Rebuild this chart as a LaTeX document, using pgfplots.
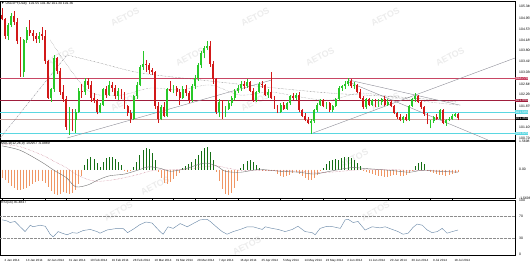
\documentclass[border=0pt]{standalone}
\usepackage{pgfplots}
\pgfplotsset{compat=1.18}
\usepackage{pgfplotstable}
\usepackage{fontspec}
\setmainfont{Liberation Sans}
\definecolor{upc}{RGB}{40,200,40}
\definecolor{dnc}{RGB}{210,25,25}
\definecolor{hred}{RGB}{160,30,60}
\definecolor{hpink}{RGB}{200,70,100}
\definecolor{hcyan}{RGB}{90,215,225}
\definecolor{htan}{RGB}{205,165,160}
\definecolor{macdg}{RGB}{20,110,20}
\definecolor{macdo}{RGB}{240,150,100}
\definecolor{rsic}{RGB}{110,140,170}
\definecolor{wm}{RGB}{236,236,236}
\definecolor{tl}{RGB}{140,140,150}

\pgfplotstableread{
i o h l c
0 105.05 105.30 104.85 104.90
1 104.90 104.95 104.20 104.30
2 104.30 104.75 104.15 104.70
3 104.70 105.10 104.60 105.00
4 105.00 105.20 104.70 104.80
5 104.80 104.95 104.00 104.10
6 104.10 104.25 102.85 103.00
7 103.00 104.20 102.85 104.15
8 104.15 104.60 104.05 104.50
9 104.50 104.85 104.30 104.40
10 104.40 104.50 104.10 104.30
11 104.30 104.40 104.05 104.20
12 104.20 104.45 104.05 104.30
13 104.35 104.60 104.15 104.30
14 104.30 104.50 103.30 103.40
15 103.40 103.45 102.05 102.10
16 102.10 102.45 101.95 102.40
17 102.40 103.60 102.30 103.50
18 103.50 103.55 102.95 103.05
19 103.05 103.15 102.20 102.30
20 102.30 102.55 101.95 102.05
21 102.05 102.15 100.95 101.05
22 101.05 101.75 100.76 101.60
23 101.60 101.70 100.90 101.30
24 101.30 101.70 100.85 101.60
25 101.60 102.45 101.55 102.35
26 102.35 102.60 102.10 102.30
27 102.30 102.80 102.20 102.70
28 102.70 102.80 102.40 102.55
29 102.55 102.70 101.95 102.10
30 102.10 102.25 101.90 102.00
31 102.00 102.05 101.50 101.60
32 101.60 101.90 101.55 101.85
33 101.85 102.45 101.80 102.40
34 102.40 102.50 102.10 102.20
35 102.20 102.70 102.15 102.55
36 102.55 102.65 102.30 102.45
37 102.45 102.55 102.05 102.15
38 102.15 102.45 102.00 102.35
39 102.35 102.40 102.05 102.20
40 102.20 102.30 101.70 101.80
41 101.80 101.85 101.45 101.55
42 101.55 101.65 101.20 101.35
43 101.35 102.20 101.30 102.15
44 102.15 102.65 102.05 102.55
45 102.55 103.25 102.50 103.20
46 103.20 103.76 103.10 103.30
47 103.30 103.45 103.00 103.25
48 103.25 103.35 102.95 103.10
49 103.10 103.15 102.90 103.00
50 103.00 103.05 101.70 101.80
51 101.80 101.95 101.20 101.35
52 101.35 101.85 101.30 101.75
53 101.75 101.95 101.40 101.45
54 101.45 102.45 101.40 102.40
55 102.40 102.70 102.30 102.35
56 102.35 102.55 102.25 102.45
57 102.45 102.50 102.15 102.30
58 102.30 102.40 101.85 102.10
59 102.10 102.50 102.05 102.40
60 102.40 102.55 102.15 102.25
61 102.25 102.35 101.90 102.00
62 102.00 102.60 101.95 102.50
63 102.50 102.90 102.40 102.80
64 102.80 103.35 102.70 103.25
65 103.25 103.75 103.15 103.70
66 103.70 103.95 103.50 103.85
67 103.85 104.13 103.80 103.95
68 103.95 104.10 103.20 103.30
69 103.30 103.40 102.60 102.75
70 102.75 102.80 101.50 101.60
71 101.60 102.05 101.40 101.95
72 101.95 102.00 101.35 101.45
73 101.45 101.80 101.40 101.70
74 101.70 102.00 101.65 101.90
75 101.90 102.15 101.80 102.10
76 102.10 102.40 102.00 102.35
77 102.35 102.55 102.25 102.45
78 102.45 102.70 102.35 102.60
79 102.60 102.70 102.40 102.50
80 102.50 102.75 102.45 102.65
81 102.65 102.70 102.30 102.35
82 102.35 102.45 101.95 102.00
83 102.00 102.35 101.95 102.30
84 102.30 102.65 102.25 102.60
85 102.60 102.70 102.45 102.55
86 102.55 102.60 102.15 102.20
87 102.20 102.40 102.10 102.30
88 102.30 103.00 102.05 102.10
89 102.10 102.15 101.70 101.75
90 101.75 101.85 101.55 101.60
91 101.60 101.90 101.55 101.85
92 101.85 101.95 101.65 101.70
93 101.70 101.95 101.65 101.90
94 101.90 102.20 101.85 102.15
95 102.15 102.25 102.00 102.10
96 102.10 102.25 102.00 102.20
97 102.20 102.30 101.60 101.65
98 101.65 101.70 101.40 101.45
99 101.45 101.55 101.25 101.30
100 101.30 101.40 101.15 101.20
101 101.20 101.35 100.82 101.25
102 101.25 101.70 101.20 101.65
103 101.65 101.90 101.60 101.85
104 101.85 102.05 101.80 102.00
105 102.00 102.05 101.75 101.80
106 101.80 101.95 101.70 101.90
107 101.90 101.95 101.60 101.65
108 101.65 101.85 101.60 101.80
109 101.80 102.10 101.75 102.05
110 102.05 102.50 102.00 102.45
111 102.45 102.55 102.35 102.50
112 102.50 102.70 102.40 102.60
113 102.60 102.80 102.50 102.70
114 102.70 102.75 102.45 102.50
115 102.50 102.65 102.40 102.55
116 102.55 102.60 102.25 102.30
117 102.30 102.40 102.05 102.10
118 102.10 102.15 101.70 101.75
119 101.75 102.10 101.70 102.05
120 102.05 102.10 101.80 101.85
121 101.85 102.05 101.80 102.00
122 102.00 102.05 101.75 101.80
123 101.80 102.05 101.75 101.95
124 101.95 102.10 101.85 102.05
125 102.05 102.15 101.80 101.85
126 101.85 102.05 101.80 101.95
127 101.95 102.00 101.75 101.80
128 101.80 101.85 101.50 101.55
129 101.55 101.60 101.35 101.40
130 101.40 101.50 101.25 101.30
131 101.30 101.45 101.20 101.40
132 101.40 101.50 101.25 101.30
133 101.30 101.85 101.25 101.80
134 101.80 102.10 101.75 102.05
135 102.05 102.28 101.95 102.15
136 102.15 102.20 101.90 101.95
137 101.95 102.00 101.70 101.75
138 101.75 101.80 101.45 101.50
139 101.50 101.55 101.15 101.20
140 101.20 101.30 101.00 101.25
141 101.25 101.45 101.20 101.40
142 101.40 101.50 101.30 101.35
143 101.35 101.70 101.30 101.65
144 101.65 101.70 101.15 101.20
145 101.20 101.35 101.10 101.30
146 101.30 101.40 101.25 101.35
147 101.35 101.50 101.30 101.45
148 101.45 101.55 101.40 101.50
149 101.50 101.55 101.30 101.36
}\candles

\pgfplotstableread{
i m
0 -0.47
1 -0.58
2 -0.74
3 -0.91
4 -1.02
5 -1.13
6 -1.13
7 -1.07
8 -1.02
9 -0.91
10 -0.80
11 -0.69
12 -0.63
13 -0.63
14 -0.74
15 -0.96
16 -1.18
17 -1.35
18 -1.40
19 -1.35
20 -1.24
21 -1.29
22 -1.35
23 -1.29
24 -1.13
25 -0.80
26 -0.36
27 0.25
28 0.58
29 0.69
30 0.58
31 0.36
32 0.14
33 0.41
34 0.63
35 0.69
36 0.69
37 0.58
38 0.41
39 0.25
40 -0.03
41 -0.14
42 -0.08
43 0.14
44 0.41
45 0.80
46 1.07
47 1.18
48 1.13
49 0.91
50 0.52
51 -0.14
52 -0.47
53 -0.74
54 -0.80
55 -0.69
56 -0.52
57 -0.36
58 -0.19
59 0.08
60 0.19
61 0.30
62 0.41
63 0.58
64 0.80
65 1.02
66 1.18
67 1.24
68 0.96
69 0.52
70 -0.14
71 -0.63
72 -1.07
73 -1.35
74 -1.40
75 -1.29
76 -1.02
77 -0.63
78 0.08
79 0.30
80 0.47
81 0.52
82 0.41
83 0.25
84 0.08
85 -0.03
86 -0.08
87 -0.03
88 -0.03
89 -0.08
90 -0.25
91 -0.36
92 -0.41
93 -0.36
94 -0.30
95 -0.19
96 -0.14
97 -0.25
98 -0.36
99 -0.47
100 -0.58
101 -0.58
102 -0.47
103 -0.30
104 -0.08
105 0.08
106 0.30
107 0.47
108 0.52
109 0.58
110 0.52
111 0.63
112 0.69
113 0.69
114 0.63
115 0.52
116 0.36
117 0.19
118 -0.08
119 -0.14
120 -0.19
121 -0.25
122 -0.30
123 -0.36
124 -0.36
125 -0.41
126 -0.41
127 -0.36
128 -0.30
129 -0.30
130 -0.36
131 -0.36
132 -0.30
133 -0.19
134 -0.03
135 0.19
136 0.36
137 0.41
138 0.30
139 -0.03
140 -0.14
141 -0.19
142 -0.25
143 -0.30
144 -0.30
145 -0.36
146 -0.30
147 -0.25
148 -0.19
149 -0.14
}\macdhist

\pgfplotstableread{
i m s
0 1.30 1.40
6 1.05 1.25
13 0.40 0.80
17 -0.05 0.45
21 -0.45 0.10
24 -0.95 -0.25
28 -0.85 -0.55
31 -0.60 -0.65
35 -0.35 -0.60
40 -0.25 -0.45
45 0.00 -0.25
48 0.15 -0.10
52 0.05 0.00
55 -0.10 0.00
60 0.05 0.00
66 0.35 0.15
70 0.20 0.20
73 -0.10 0.10
78 -0.15 -0.05
84 0.00 -0.05
91 -0.10 -0.05
97 -0.15 -0.10
102 -0.25 -0.15
107 -0.10 -0.15
114 0.10 -0.05
119 0.05 0.00
127 -0.05 0.00
133 -0.15 -0.05
137 -0.05 -0.05
143 -0.10 -0.08
149 -0.15 -0.10
}\macdlines

\pgfplotstableread{
i r
0 64
1.6 62
2.6 59
4.2 61
5.9 51
7.5 42
9.2 54
10.1 51
12.4 54
14.1 52
15.7 37
16.7 32
18.3 42
19.6 39
21.2 36
22.9 40
24.5 39
26.5 44
28.8 46
31 42
32 39
34.3 45
37.6 48
39.5 48
41 40
43 47
45 55
47 60
49 58
51.6 42
52.6 37
54.2 51
55.9 48
58.2 57
60.5 51
62.4 57
64.7 64
67 65
68 61
70.6 48
71.9 42
73.5 37
75.5 42
77.8 46
80.1 51
82 51
85 46
86 51
88.2 48
90.2 46
92.5 42
94.8 46
96.7 52
99 42
101.3 40
102.3 36
103.9 48
106.2 52
108.2 51
110.5 48
112.1 64
113.1 65
114.7 59
116.3 61
118.6 45
120.9 51
123.5 49
125.2 51
127.5 46
129.4 42
131 37
132.7 39
134.3 50
135.6 56
137.3 54
138.9 45
140.5 40
142.2 42
143.8 48
145.4 39
147.1 42
149 45
}\rsi

\pgfplotsset{
  mt4/.style={
    scale only axis, width=515pt, xmin=-0.7, xmax=167.6,
    axis line style={black, line width=0.4pt},
    yticklabel pos=right,
    tick label style={font=\fontsize{3.4}{4}\selectfont, text=black},
    tick align=outside, major tick length=1.2pt,
    tick style={black, line width=0.3pt},
    xtick=\empty, clip mode=individual,
    yticklabel style={xshift=-0.5pt},
  },
}
\tikzset{
  lbl/.style={font=\fontsize{3.4}{4}\selectfont, inner sep=0.4pt, anchor=west, text=white},
  wmk/.style={text=wm, rotate=28, font=\bfseries\fontsize{9}{9}\selectfont, inner sep=0pt},
}

\begin{document}
\begin{tikzpicture}
\useasboundingbox (0,0) rectangle (530pt,-263pt);
% ---------------- main price panel ----------------
\begin{axis}[mt4, at={(0pt,-1pt)}, anchor=north west, height=139pt,
  ymin=100.59, ymax=105.54,
  ytick={105.340,104.926,104.534,104.152,103.771,103.379,103.000,102.558,102.216,101.799,101.025,100.647},
  yticklabels={105.340,104.955,104.570,104.185,103.800,103.415,103.030,102.645,102.260,101.875,101.105,100.720}]
% watermark
\node[wmk] at (axis cs:40.2,104.97) {AETOS};
\node[wmk] at (axis cs:82.7,104.97) {AETOS};
\node[wmk] at (axis cs:125.2,104.97) {AETOS};
\node[wmk] at (axis cs:19.0,103.55) {AETOS};
\node[wmk] at (axis cs:61.4,103.55) {AETOS};
\node[wmk] at (axis cs:103.9,103.55) {AETOS};
\node[wmk] at (axis cs:146.4,103.55) {AETOS};
\node[wmk] at (axis cs:40.2,101.95) {AETOS};
\node[wmk] at (axis cs:82.7,101.95) {AETOS};
\node[wmk] at (axis cs:125.2,101.95) {AETOS};
% horizontal lines
\addplot[hpink, line width=0.7pt] coordinates {(-0.7,102.77) (167.6,102.77)};
\addplot[hred, line width=0.7pt] coordinates {(-0.7,101.99) (167.6,101.99)};
\addplot[hcyan, line width=0.7pt] coordinates {(-0.7,101.585) (167.6,101.585)};
\addplot[hcyan, line width=0.7pt] coordinates {(-0.7,100.825) (167.6,100.825)};
\addplot[htan, line width=0.5pt] coordinates {(-0.7,101.34) (167.6,101.34)};
% trend lines
\addplot[tl, line width=0.4pt] coordinates {(21.2,100.66) (88.2,102.73)};
\addplot[tl, line width=0.4pt] coordinates {(101.6,100.84) (167.6,103.51)};
\addplot[tl, line width=0.4pt] coordinates {(113.1,102.73) (149.7,101.83)};
\addplot[tl, line width=0.4pt] coordinates {(113.1,102.66) (158.8,100.59)};
\addplot[tl, line width=0.4pt, dash pattern=on 2pt off 1pt on 0.5pt off 1pt] coordinates {(-0.65,100.66) (21.2,103.62)};
% moving averages (dotted)
\addplot[black!65, densely dotted, line width=0.4pt, smooth] coordinates {
(21.2,103.62) (32.0,103.33) (45.1,102.98) (64.7,102.73) (85.9,102.48) (107.2,102.26) (130.1,102.12) (149,101.94)};
\addplot[black!50, densely dotted, line width=0.4pt, smooth] coordinates {
(15.7,104.15) (27.8,102.37) (38.6,102.19) (48.4,102.44) (58.2,102.37) (68,102.55) (77.8,102.19)
(87.6,102.30) (97.4,102.12) (107.2,102.01) (117,102.26) (130.1,102.08) (139.9,101.94) (149,101.83)};
% candles: wicks
\addplot[upc, line width=0.45pt, quiver={u=0, v=\thisrow{h}-\thisrow{l}},
  x filter/.expression={\thisrow{c}>=\thisrow{o} ? x : nan}] table[x=i, y=l]{\candles};
\addplot[dnc, line width=0.45pt, quiver={u=0, v=\thisrow{h}-\thisrow{l}},
  x filter/.expression={\thisrow{c}<\thisrow{o} ? x : nan}] table[x=i, y=l]{\candles};
% candles: bodies
\addplot[upc, line width=1.9pt, quiver={u=0, v=\thisrow{c}-\thisrow{o}},
  x filter/.expression={\thisrow{c}>=\thisrow{o} ? x : nan}] table[x=i, y=o]{\candles};
\addplot[dnc, line width=1.9pt, quiver={u=0, v=\thisrow{c}-\thisrow{o}},
  x filter/.expression={\thisrow{c}<\thisrow{o} ? x : nan}] table[x=i, y=o]{\candles};
% price boxes
\node[lbl, fill=hpink] at (axis cs:167.6,102.77) {102.770};
\node[lbl, fill=hred] at (axis cs:167.6,101.99) {101.990};
\node[lbl, fill=hcyan] at (axis cs:167.6,101.585) {101.585};
\node[lbl, fill=black] at (axis cs:167.6,101.36) {101.360};
\node[lbl, fill=hcyan] at (axis cs:167.6,100.825) {100.825};
\node[anchor=north west, font=\fontsize{3.4}{4}\selectfont, inner sep=1pt] at (rel axis cs:0,1) {▼ USDJPY,Daily\ \ 101.55 101.60 101.30 101.36};
\end{axis}
% ---------------- MACD panel ----------------
\begin{axis}[mt4, at={(0pt,-141pt)}, anchor=north west, height=57pt,
  ymin=-1.57, ymax=1.57, ytick={-1.5698,0,1.5698}, yticklabels={-1.5698,0.00,1.5698}]
\node[wmk] at (axis cs:50,-0.9) {AETOS};
\node[wmk] at (axis cs:115,0.6) {AETOS};
\addplot[ycomb, macdg, line width=0.8pt, y filter/.expression={y>=0 ? y : nan}] table[x=i, y=m]{\macdhist};
\addplot[ycomb, macdo, line width=0.8pt, y filter/.expression={y<0 ? y : nan}] table[x=i, y=m]{\macdhist};
\addplot[black!55, line width=0.4pt, smooth] table[x=i, y=m]{\macdlines};
\addplot[hred!70, line width=0.4pt, densely dotted, smooth] table[x=i, y=s]{\macdlines};
\node[anchor=north west, font=\fontsize{3.4}{4}\selectfont, inner sep=1pt] at (rel axis cs:0,1) {MACD(12,26,9) -0.0957 -0.0889};
\end{axis}
% ---------------- RSI panel ----------------
\begin{axis}[mt4, at={(0pt,-200pt)}, anchor=north west, height=55pt,
  ymin=-2, ymax=101.3, ytick={0,30,70,100}, yticklabels={0,30,70,100},
  xtick={0,7,...,147},
  xticklabels={2 Jan 2014,13 Jan 2014,22 Jan 2014,31 Jan 2014,10 Feb 2014,19 Feb 2014,28 Feb 2014,10 Mar 2014,19 Mar 2014,28 Mar 2014,7 Apr 2014,16 Apr 2014,25 Apr 2014,5 May 2014,14 May 2014,23 May 2014,2 Jun 2014,11 Jun 2014,20 Jun 2014,30 Jun 2014,9 Jul 2014,18 Jul 2014},
  xticklabel style={anchor=north west, xshift=-1pt, font=\fontsize{3}{3.5}\selectfont}]
\node[wmk] at (axis cs:38,80) {AETOS};
\node[wmk] at (axis cs:80,15) {AETOS};
\node[wmk] at (axis cs:122,80) {AETOS};
\addplot[black!45, densely dotted, line width=0.35pt] coordinates {(-0.7,70) (167.6,70)};
\addplot[black!45, densely dotted, line width=0.35pt] coordinates {(-0.7,30) (167.6,30)};
\addplot[rsic, line width=0.45pt] table[x=i, y=r]{\rsi};
\node[anchor=north west, font=\fontsize{3.4}{4}\selectfont, inner sep=1pt] at (rel axis cs:0,1) {RSI(14) 45.4847};
\end{axis}
\end{tikzpicture}
\end{document}
